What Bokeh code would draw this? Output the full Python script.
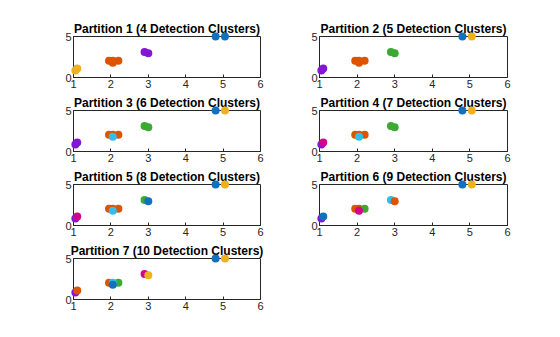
from bokeh.plotting import figure
from bokeh.layouts import column, row, Spacer
from bokeh.models import Range1d, FixedTicker, ColumnDataSource
from bokeh.embed import file_html
from bokeh.resources import INLINE

# detection points
px = [1.05, 1.1, 1.95, 2.05, 2.05, 2.2, 2.9, 3.0, 4.8, 5.05]
py = [0.85, 1.1, 2.05, 2.05, 1.8, 2.05, 3.1, 2.95, 5.0, 5.0]

# cluster ids per partition
part1 = [3, 3, 2, 2, 2, 2, 4, 4, 1, 1]
part2 = [4, 4, 2, 2, 2, 2, 5, 5, 1, 3]
part3 = [4, 4, 2, 2, 6, 2, 5, 5, 1, 3]
part4 = [4, 7, 2, 2, 6, 2, 5, 5, 1, 3]
part5 = [4, 7, 2, 2, 6, 2, 5, 8, 1, 3]
part6 = [4, 8, 2, 2, 7, 5, 6, 9, 1, 3]
part7 = [4, 9, 2, 6, 8, 5, 7, 10, 1, 3]
partitions = [part1, part2, part3, part4, part5, part6, part7]
n_clusters = [4, 5, 6, 7, 8, 9, 10]

palette = ["#1171BE", "#DD5400", "#EDB120", "#8516D1", "#3BAA32", "#2FBEEF", "#D1048B"]

FONT = "Liberation Sans"


def make_panel(k, left_col):
    labels = partitions[k]
    p = figure(
        width=288 if left_col else 240,
        height=74,
        min_border_left=73 if left_col else 31,
        min_border_right=28 if left_col else 21,
        min_border_top=16,
        min_border_bottom=16,
        x_range=Range1d(1, 6),
        y_range=Range1d(0, 5),
        output_backend="svg",
        toolbar_location=None,
        background_fill_color="white",
        border_fill_color="white",
    )
    p.title.text = f"Partition {k + 1} ({n_clusters[k]} Detection Clusters)"
    p.title.text_font = FONT
    p.title.text_font_size = "12px"
    p.title.text_font_style = "bold"
    p.title.text_color = "#000000"
    p.title.align = "center"
    p.title.standoff = 1
    p.title.offset = 0
    p.grid.visible = False
    p.outline_line_color = "#262626"
    p.outline_line_width = 1
    p.outline_line_alpha = 1
    for ax in (p.xaxis[0], p.yaxis[0]):
        ax.axis_line_color = "#262626"
        ax.major_tick_line_color = "#262626"
        ax.major_tick_in = 3
        ax.major_tick_out = 0
        ax.minor_tick_line_color = None
        ax.major_label_text_font = FONT
        ax.major_label_text_font_size = "11px"
        ax.major_label_text_color = "#262626"
        ax.major_label_standoff = 2
    p.xaxis[0].ticker = FixedTicker(ticks=[1, 2, 3, 4, 5, 6])
    p.yaxis[0].ticker = FixedTicker(ticks=[0, 5])

    for cid in sorted(set(labels)):
        xs = [px[i] for i, c in enumerate(labels) if c == cid]
        ys = [py[i] for i, c in enumerate(labels) if c == cid]
        p.scatter(xs, ys, size=8, color=palette[(cid - 1) % 7], line_color=None,
                  level="overlay")
    return p


rows = []
for r in range(4):
    items = []
    k1 = 2 * r
    items.append(make_panel(k1, True))
    if k1 + 1 < 7:
        items.append(make_panel(k1 + 1, False))
    else:
        items.append(Spacer(width=240, height=74))
    rows.append(row(*items))

layout = column(Spacer(width=528, height=19), *rows)

with open("out.html", "w") as f:
    f.write(file_html(layout, INLINE))
